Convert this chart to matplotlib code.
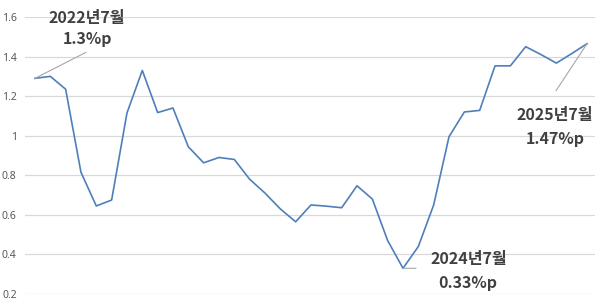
import matplotlib
matplotlib.use('Agg')
from matplotlib import pyplot as plt

plt.rcParams['font.family'] = ['Noto Sans CJK KR', 'DejaVu Sans']

# Monthly values, 2022.7 -> 2025.7
values = [1.29, 1.30, 1.235, 0.815, 0.645, 0.675, 1.115, 1.33, 1.117, 1.14,
          0.944, 0.863, 0.89, 0.88, 0.78, 0.71, 0.63, 0.565, 0.65, 0.644,
          0.636, 0.747, 0.68, 0.47, 0.33, 0.44, 0.65, 0.995, 1.12, 1.128,
          1.353, 1.353, 1.45, 1.41, 1.367, 1.415, 1.465]
yticks = [0.2, 0.4, 0.6, 0.8, 1.0, 1.2, 1.4, 1.6]
ytick_labels = ['0.2', '0.4', '0.6', '0.8', '1', '1.2', '1.4', '1.6']

# callouts: (index, title, value label, leader end, title offset, value offset) in pixels
callouts = [
    (0, '2022년7월', '1.3%p', (51, 26), (52, 60), (53, 39)),
    (24, '2024년7월', '0.33%p', (13, 0), (66, 9), (65, -15)),
    (36, '2025년7월', '1.47%p', (-31, -47), (-32, -71), (-32, -95)),
]

fig = plt.figure(figsize=(6, 3), dpi=100)
ax = fig.add_axes([25/600, 6/300, 570/600, 277/300])

x = list(range(len(values)))
ax.plot(x, values, color='#4f7fba', lw=1.2, zorder=3)

ax.set_xlim(-0.65, len(values) - 1 + 0.52)
ax.set_ylim(0.2, 1.6)
ax.set_yticks(yticks)
ax.set_yticklabels(ytick_labels, family='Noto Sans', fontsize=7.5, color='#595959')
ax.set_xticks([])
ax.tick_params(axis='y', length=0, pad=6)
ax.grid(axis='y', color='#d9d9d9', lw=0.9)
ax.set_axisbelow(True)
for s in ax.spines.values():
    s.set_visible(False)

for i, title, val, lend, toff, voff in callouts:
    ax.annotate('', xy=(i, values[i]), xytext=lend, textcoords='offset pixels',
                arrowprops=dict(arrowstyle='-', color='#a6a6a6', lw=0.8, shrinkA=0, shrinkB=0))
    ax.annotate(title, xy=(i, values[i]), xytext=toff, textcoords='offset pixels',
                ha='center', va='center', fontsize=11.5, fontweight='bold', color='#404040',
                annotation_clip=False)
    ax.annotate(val, xy=(i, values[i]), xytext=voff, textcoords='offset pixels',
                ha='center', va='center', fontsize=11.5, fontweight='bold', color='#404040',
                annotation_clip=False)

fig.savefig('out.png', dpi=100)
